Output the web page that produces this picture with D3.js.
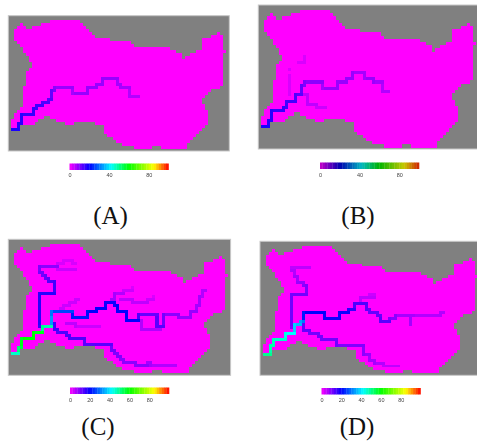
<!DOCTYPE html>
<html lang="en">
<head>
<meta charset="utf-8">
<script src="https://cdn.jsdelivr.net/npm/d3@7"></script>
<style>
    html, body { margin: 0; padding: 0; background: #fff; overflow: hidden; }
    svg { display: block; }
    rect.cell { shape-rendering: crispEdges; }
    .soft { filter: blur(0.5px); }
</style>
</head>

<body>
<div id="svg"></div>

<script>
    // catchment mask, one entry per grid row: [first col, last col] spans
    var catchment = [
        [[14,18],[19,23]],
        [[4,4],[11,24]],
        [[3,5],[8,25]],
        [[2,26]],
        [[2,27],[70,70]],
        [[2,28],[68,71]],
        [[2,33],[65,71]],
        [[3,40],[65,71]],
        [[4,41],[65,71]],
        [[5,53],[65,71]],
        [[5,55],[63,72]],
        [[6,57],[61,71]],
        [[7,57],[59,71]],
        [[7,71]],
        [[8,71]],
        [[8,71]],
        [[7,71]],
        [[6,71]],
        [[6,71]],
        [[6,71]],
        [[6,71]],
        [[6,71]],
        [[5,70]],
        [[5,67]],
        [[5,66]],
        [[5,65]],
        [[5,64]],
        [[5,64]],
        [[5,65]],
        [[4,65]],
        [[3,66]],
        [[2,66]],
        [[2,11],[14,66]],
        [[1,9],[16,66]],
        [[1,8],[19,21],[29,66]],
        [[1,3],[32,65]],
        [[1,3],[32,64]],
        [[32,63]],
        [[33,62]],
        [[35,61]],
        [[36,60]],
        [[38,59]],
        [[42,47],[51,59]]
    ];

    // river chains: each vertex is [col, row, value], read upstream from the outlet
    var riverA = [
        [[1,36,18],[3,36,18],[3,34,17],[4,34,17],[4,31,17],[8,31,16],[8,29,16],[9,29,15],[9,28,15],[11,28,15],
         [11,27,14],[13,27,14],[13,26,13],[14,26,13],[14,23,12],[15,23,10],[15,22,9],[21,22,8],[21,24,7],[26,24,8],
         [26,22,8],[29,22,8],[29,21,8],[31,21,8],[31,19,8],[36,19,8],[36,21,7],[37,21,7],[37,22,7],[40,22,7],
         [40,25,6],[43,25,6]]
    ];
    var riverB = [
        [[15,14,3],[15,16,3],[13,16,3]],
        [[10,18,3],[10,18,3]],
        [[10,20,3],[10,26,3]],
        [[15,26,5],[16,26,5],[16,29,5],[19,29,5],[19,30,4],[22,30,4]],
        [[1,36,18],[3,36,18],[3,34,17],[4,34,17],[4,31,17],[8,31,16],[8,30,16],[9,30,15],[9,28,15],[12,28,15],
         [12,26,14],[14,26,13],[14,23,12],[15,23,10],[15,22,10],[21,22,9],[21,24,7],[26,24,8],[26,22,8],[29,22,8],
         [29,21,8],[31,21,8],[31,19,8],[35,19,7],[35,21,7],[38,21,8],[38,22,8],[41,22,7],[41,25,6],[43,25,6]]
    ];
    var riverC = [
        [[16,8,4],[22,8,4]],
        [[16,7,4],[16,6,4],[18,6,3],[18,5,3],[21,5,3],[21,6,3],[22,6,3]],
        [[17,21,4],[18,21,4],[18,20,4],[20,20,4],[20,19,4],[22,19,4],[22,18,4],[23,18,4]],
        [[34,18,7],[35,18,7],[35,16,7],[38,16,6],[38,15,4],[41,15,4],[41,14,3]],
        [[37,18,5],[41,18,5],[41,19,5],[46,19,5],[46,18,4],[48,18,4],[48,17,3]],
        [[19,26,5],[22,26,5],[22,27,5],[30,27,4]],
        [[43,25,6],[44,25,6],[44,28,6],[50,28,6],[50,27,7]],
        [[15,26,15],[15,28,15],[16,28,15],[16,29,14],[19,29,14],[19,30,14],[20,30,14],[20,31,14],[25,31,14],[25,33,13],
         [34,33,13],[34,35,11],[35,35,11],[35,36,10],[36,36,10],[36,37,10],[37,37,10],[37,38,9],[38,38,9],[38,39,9],
         [42,39,9],[42,40,9],[46,40,9],[46,39,7],[47,39,7],[47,40,7],[55,40,6]],
        [[10,27,16],[10,16,17],[15,16,17],[15,12,15],[13,12,14],[13,11,13],[12,11,12],[12,10,12],[11,10,11],[11,9,11],
         [10,9,11],[10,7,10],[16,7,9]],
        [[1,36,46],[3,36,46],[3,34,52],[4,34,56],[4,31,58],[8,31,60],[8,29,60],[11,29,58],[11,27,50],[14,27,48],
         [14,24,33],[14,22,30],[21,22,26],[21,24,22],[26,24,22],[26,22,21],[29,22,20],[29,21,20],[32,21,20],[32,19,19],
         [35,19,19],[35,20,19],[36,20,20],[36,22,20],[39,22,20],[39,25,20],[43,25,20],[43,23,14],[49,23,12],[49,27,13],
         [51,27,13],[51,23,11],[56,23,9],[56,24,8],[60,24,8],[60,22,8],[62,22,8],[62,20,7],[63,20,7],[63,17,7],
         [64,17,6],[64,15,6],[65,15,6]]
    ];
    var riverD = [
        [[33,18,5],[33,17,5],[38,17,5]],
        [[36,16,4],[38,16,4]],
        [[50,24,7],[50,26,7]],
        [[14,26,12],[14,28,12],[16,28,12],[16,29,11],[19,29,11],[19,30,11],[20,30,11],[20,31,11],[25,31,11],[25,33,11],
         [34,33,10],[34,36,9],[36,36,8],[36,38,7],[38,38,7],[38,39,7],[41,39,6],[41,40,5],[46,40,5]],
        [[10,27,10],[10,16,11],[15,16,11],[15,13,10],[14,13,9],[14,12,8],[12,12,8],[12,10,7],[11,10,7],[11,8,6],
         [10,8,6],[10,7,5],[16,7,5]],
        [[1,36,50],[3,36,50],[3,33,48],[4,33,48],[4,31,47],[8,31,46],[8,29,44],[11,29,42],[11,26,38],[13,26,36],
         [13,25,34],[14,25,30],[14,22,22],[21,22,20],[21,24,19],[26,24,19],[26,22,19],[29,22,19],[29,21,17],[31,21,16],
         [31,19,14],[35,19,14],[35,21,13],[36,21,12],[36,22,12],[39,22,12],[39,23,12],[40,23,12],[40,25,13],[43,25,13],
         [43,24,10],[45,24,9],[45,23,9],[51,23,7],[60,23,6],[60,22,6],[61,22,6]]
    ];

    var panelNames = ["A", "B", "C", "D"];
    var panelRivers = [riverA, riverB, riverC, riverD];
    var panelTicks = [
        [0, 40, 80],
        [0, 40, 80],
        [0, 20, 40, 60, 80],
        [0, 20, 40, 60, 80]
    ];
    var colorStops = [0, 20, 42, 60, 85, 100];
    var brightColors = ["#ff00ff", "#0000ff", "#00ffff", "#00ff00", "#ffff00", "#ff0000"];
    var darkColors = ["#c800c8", "#0000b0", "#00b8c0", "#00b400", "#c8c800", "#d02000"];

    // --------------------------------------------------
    // layout, in page pixels

    var width = 477, height = 441, nCols = 74, nRows = catchment.length;

    var layout = [
        {x0: 8.3, x1: 229.3, y0: 15.7, y1: 151, top: 20.2, rowH: 3.0,
         barX: 69.5, barY: 163.5, tickY: 178, labelX: 110.5, labelY: 224, dark: false},
        {x0: 258.3, x1: 479.3, y0: 5, y1: 149, top: 10, rowH: 3.2,
         barX: 320, barY: 162.5, tickY: 178, labelX: 358, labelY: 224, dark: true},
        {x0: 8.3, x1: 230.6, y0: 239.3, y1: 375.3, top: 244, rowH: 3.0,
         barX: 70, barY: 387.5, tickY: 403, labelX: 98, labelY: 435, dark: false},
        {x0: 260, x1: 481, y0: 241.3, y1: 375.3, top: 245.7, rowH: 2.97,
         barX: 321.5, barY: 388, tickY: 403, labelX: 357, labelY: 435, dark: false}
    ];

    var bright = d3.scaleLinear().domain(colorStops).range(brightColors);
    var dark = d3.scaleLinear().domain(colorStops).range(darkColors);

    // walk a chain cell by cell, across first and then along the row
    function chainCells(chain){
        var cells = [];
        chain.forEach(function(v, i){
            if (i == 0) { cells.push(v); return; }
            var c = chain[i - 1][0], r = chain[i - 1][1];
            while (c != v[0]) { c += c < v[0] ? 1 : -1; cells.push([c, r, v[2]]); }
            while (r != v[1]) { r += r < v[1] ? 1 : -1; cells.push([c, r, v[2]]); }
        });
        return cells;
    }

    var svg = d3.select("#svg").append("svg")
        .attr("width", width)
        .attr("height", height);

    panelNames.forEach(function(name, p){
        var f = layout[p];
        var g = svg.append("g").attr("class", "soft");

        var x = d3.scaleLinear().domain([0, nCols]).range([f.x0, f.x1]);
        var y = d3.scaleLinear().domain([0, nRows]).range([f.top, f.top + nRows * f.rowH]);

        g.append("rect")
            .attr("x", f.x0)
            .attr("y", f.y0)
            .attr("width", f.x1 - f.x0)
            .attr("height", f.y1 - f.y0)
            .style("fill", "#808080")
            .style("stroke", "#c8c8c8")
            .style("stroke-width", 1);

        // catchment
        catchment.forEach(function(spans, r){
            g.selectAll(null)
                .data(spans)
            .enter().append("rect")
                .attr("class", "cell")
                .attr("x", function(d){ return x(d[0]); })
                .attr("y", y(r))
                .attr("width", function(d){ return x(d[1] + 1) - x(d[0]); })
                .attr("height", y(r + 1) - y(r))
                .style("fill", bright(0));
        });

        // rivers
        panelRivers[p].forEach(function(chain){
            g.selectAll(null)
                .data(chainCells(chain))
            .enter().append("rect")
                .attr("class", "cell")
                .attr("x", function(d){ return x(d[0]); })
                .attr("y", function(d){ return y(d[1]); })
                .attr("width", x(1) - x(0))
                .attr("height", y(1) - y(0))
                .style("fill", function(d){ return bright(d[2]); });
        });

        // colour bar
        var barScale = d3.scaleLinear().domain([0, 100]).range([f.barX, f.barX + 99]);
        var barColor = f.dark ? dark : bright;
        var bar = svg.append("g").attr("class", "soft");

        bar.selectAll("rect")
            .data(d3.range(0, 100, 2.5))
        .enter().append("rect")
            .attr("x", function(d){ return barScale(d); })
            .attr("y", f.barY)
            .attr("width", barScale(2.5) - barScale(0) + 0.3)
            .attr("height", 6.5)
            .style("fill", function(d){ return barColor(d + 1.25); });

        var axis = d3.axisBottom(barScale)
            .tickValues(panelTicks[p])
            .tickSize(0)
            .tickPadding(0);

        var ax = bar.append("g")
            .attr("transform", "translate(0," + (f.tickY - 6) + ")")
            .call(axis);
        ax.select(".domain").remove();
        ax.selectAll("text")
            .attr("y", 3)
            .attr("dy", "0.35em")
            .style("font-family", "'Liberation Sans', sans-serif")
            .style("font-size", "5.5px")
            .style("fill", "#444");

        svg.append("text")
            .attr("x", f.labelX)
            .attr("y", f.labelY)
            .attr("text-anchor", "middle")
            .style("font-family", "'Liberation Serif', serif")
            .style("font-size", "25px")
            .style("fill", "#111")
            .text("(" + name + ")");
    });
</script>
</body>
</html>
